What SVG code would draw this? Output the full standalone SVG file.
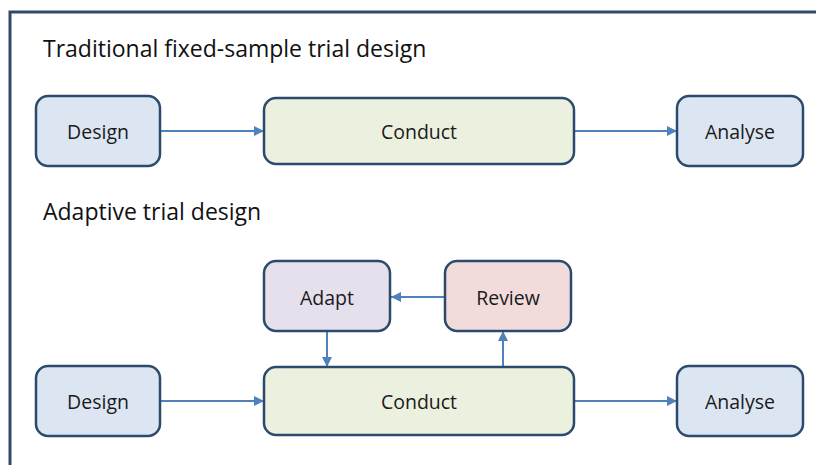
<svg xmlns="http://www.w3.org/2000/svg" width="816" height="465" viewBox="0 0 816 465">
<style>
.frame{fill:none;stroke:#2e4a6b;stroke-width:3}
.box{stroke:#2c4a6e;stroke-width:2.5}
.blue{fill:#dce6f2}.green{fill:#ebf1de}.purple{fill:#e5e0ec}.pink{fill:#f2dcdb}
.lbl{font-family:"Open Sans","Liberation Sans",sans-serif;font-size:19.5px;fill:#1a1a1a;text-anchor:middle;dominant-baseline:central}
.title{font-family:"Open Sans","Liberation Sans",sans-serif;font-size:23px;fill:#111}
.conn{stroke:#4f81bd;stroke-width:2;fill:none;marker-end:url(#ah)}
</style>
<defs>
<marker id="ah" viewBox="0 0 10 10" refX="10" refY="5" markerWidth="5" markerHeight="5" orient="auto" markerUnits="strokeWidth">
<path d="M0,0 L10,5 L0,10 z" fill="#4f81bd"/>
</marker>
</defs>
<rect width="816" height="465" fill="#ffffff"/>
<path class="frame" d="M10,465 V12 H816"/>
<text class="title" x="43" y="57">Traditional fixed-sample trial design</text>
<text class="title" x="43" y="220">Adaptive trial design</text>
<g id="connectors">
<line class="conn" x1="160" y1="131" x2="264" y2="131"/>
<line class="conn" x1="574" y1="131" x2="677" y2="131"/>
<line class="conn" x1="445" y1="297" x2="391" y2="297"/>
<line class="conn" x1="327" y1="331" x2="327" y2="367"/>
<line class="conn" x1="503" y1="367" x2="503" y2="331"/>
<line class="conn" x1="160" y1="401" x2="264" y2="401"/>
<line class="conn" x1="574" y1="401" x2="677" y2="401"/>
</g>
<g id="design1"><rect class="box blue" x="36" y="96" width="124" height="70" rx="12"/><text class="lbl" x="98" y="131">Design</text></g>
<g id="conduct1"><rect class="box green" x="264" y="98" width="310" height="66" rx="12"/><text class="lbl" x="419" y="131">Conduct</text></g>
<g id="analyse1"><rect class="box blue" x="677" y="96" width="126" height="70" rx="12"/><text class="lbl" x="740" y="131">Analyse</text></g>
<g id="adapt"><rect class="box purple" x="264" y="261" width="126" height="70" rx="12"/><text class="lbl" x="327" y="297">Adapt</text></g>
<g id="review"><rect class="box pink" x="445" y="261" width="126" height="70" rx="12"/><text class="lbl" x="508" y="297">Review</text></g>
<g id="design2"><rect class="box blue" x="36" y="366" width="124" height="70" rx="12"/><text class="lbl" x="98" y="401">Design</text></g>
<g id="conduct2"><rect class="box green" x="264" y="367" width="310" height="68" rx="12"/><text class="lbl" x="419" y="401">Conduct</text></g>
<g id="analyse2"><rect class="box blue" x="677" y="366" width="126" height="70" rx="12"/><text class="lbl" x="740" y="401">Analyse</text></g>
</svg>
